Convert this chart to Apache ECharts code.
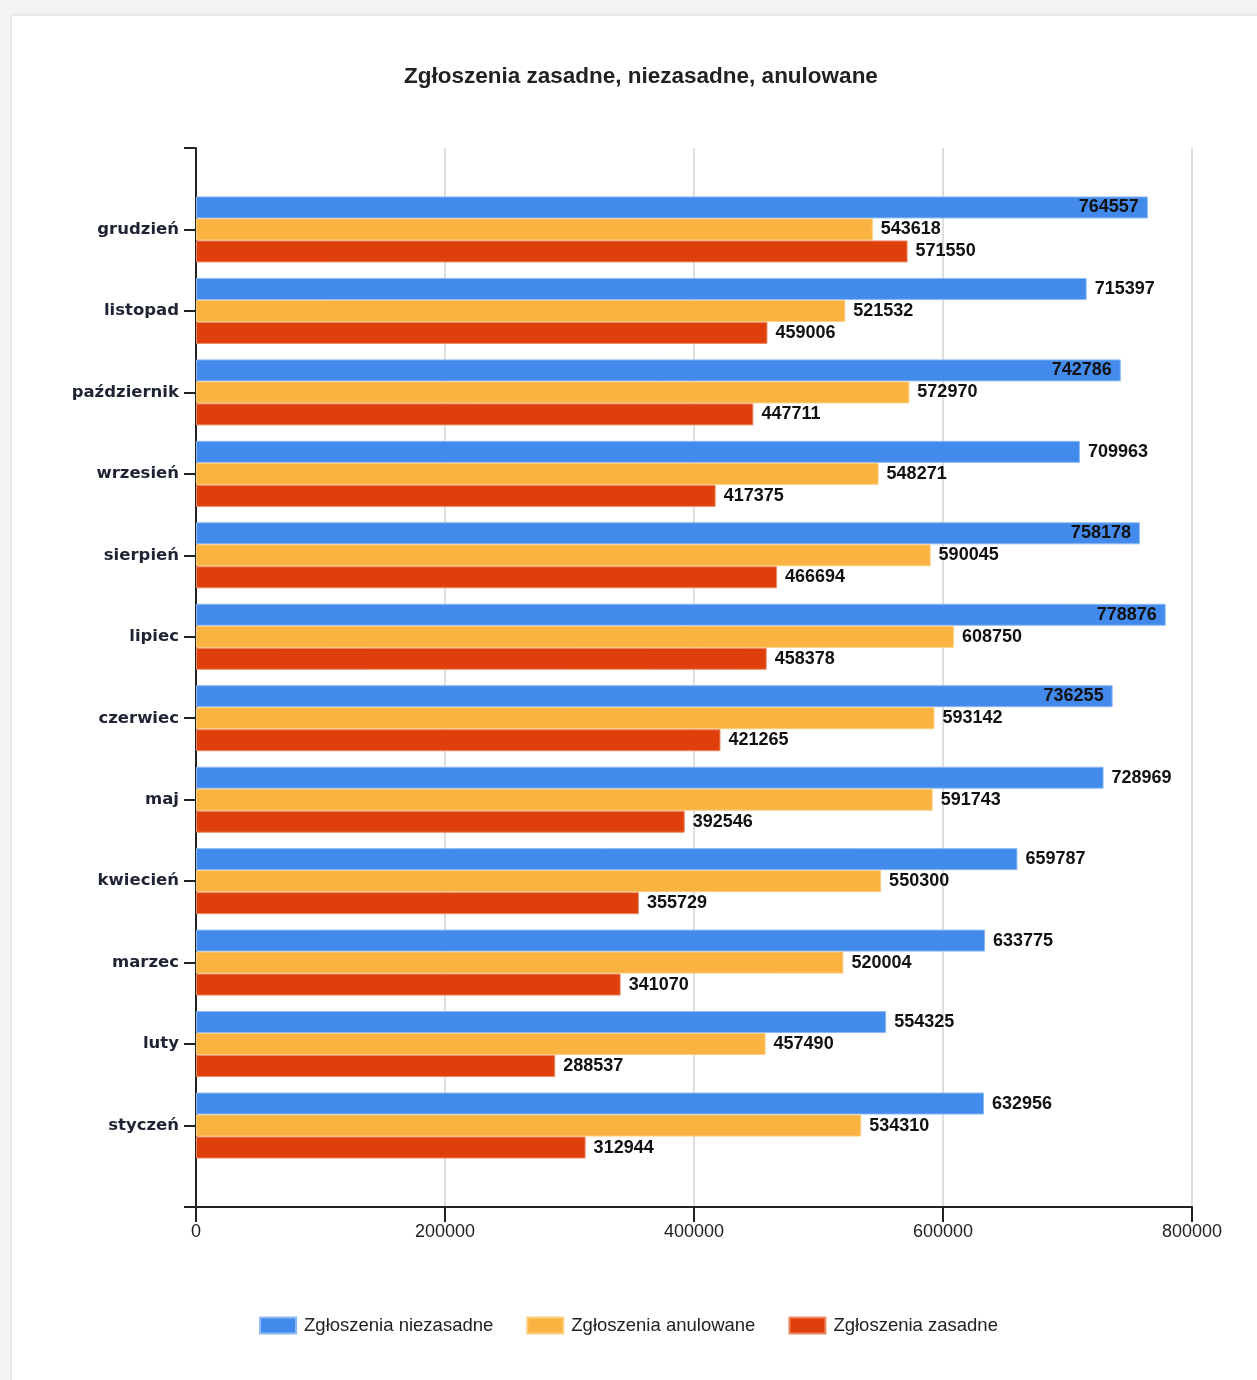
<!DOCTYPE html>
<html lang="pl">
<head>
<meta charset="utf-8">
<title>Zgłoszenia zasadne, niezasadne, anulowane</title>
<script src="https://cdn.jsdelivr.net/npm/echarts@6/dist/echarts.min.js"></script>
<style>
  html, body { margin: 0; padding: 0; width: 1257px; height: 1380px; background: #f4f4f4; overflow: hidden; }
  #card { position: absolute; left: 11px; top: 15px; width: 1260px; height: 1380px; background: #ffffff;
          border-left: 1px solid #e6e6e6; border-top: 1px solid #e6e6e6; box-shadow: 0 -2px 3px rgba(0,0,0,0.03); }
  #chart { position: absolute; left: 0; top: 0; width: 1257px; height: 1380px; }
</style>
</head>
<body>
<div id="card"></div>
<div id="chart"></div>
<script>
// Months, bottom (January) to top (December)
const months = ['styczeń', 'luty', 'marzec', 'kwiecień', 'maj', 'czerwiec',
                'lipiec', 'sierpień', 'wrzesień', 'październik', 'listopad', 'grudzień'];

const seriesNames = ['Zgłoszenia niezasadne', 'Zgłoszenia anulowane', 'Zgłoszenia zasadne'];

const niezasadne = [632956, 554325, 633775, 659787, 728969, 736255, 778876, 758178, 709963, 742786, 715397, 764557];
const anulowane  = [534310, 457490, 520004, 550300, 591743, 593142, 608750, 590045, 548271, 572970, 521532, 543618];
const zasadne    = [312944, 288537, 341070, 355729, 392546, 421265, 458378, 466694, 417375, 447711, 459006, 571550];

const xTicks = [0, 200000, 400000, 600000, 800000];

const colors = ['#428BEC', '#FAB340', '#DE3F0B'];
const borders = ['#8DB9F3', '#FCCD80', '#EC8A66'];

const AXIS_MAX = xTicks[xTicks.length - 1];
const INSIDE_RATIO = 0.915; // long bars carry their label inside the bar end

// Empty slots at both ends give the half-band padding around the month rows
const categories = [''].concat(months, ['']);

function toItems(values) {
  const items = values.map(v => {
    const inside = v > AXIS_MAX * INSIDE_RATIO;
    return {
      value: v,
      label: inside ? { position: 'insideRight', distance: 9 } : { position: 'right', distance: 8 }
    };
  });
  return ['-'].concat(items, ['-']);
}

const valueSets = [niezasadne, anulowane, zasadne];

const series = valueSets.map((vals, i) => ({
  name: seriesNames[i],
  type: 'bar',
  barWidth: 22,
  barGap: '0%',
  data: toItems(vals),
  itemStyle: { color: colors[i], borderColor: borders[i], borderWidth: 1 },
  label: {
    show: true,
    color: '#111',
    fontFamily: 'Liberation Sans, Arial, sans-serif',
    fontWeight: 'bold',
    fontSize: 18
  },
  emphasis: { disabled: true },
  animation: false
}));

const chart = echarts.init(document.getElementById('chart'), null, { renderer: 'canvas' });

chart.setOption({
  animation: false,
  title: {
    text: 'Zgłoszenia zasadne, niezasadne, anulowane',
    left: 399,
    top: 60,
    textStyle: {
      fontFamily: 'Liberation Sans, Arial, sans-serif',
      fontWeight: 'bold',
      fontSize: 22.5,
      color: '#222'
    }
  },
  legend: {
    data: seriesNames,
    bottom: 40,
    left: 'center',
    padding: [5, 5, 5, 9],
    icon: 'rect',
    itemWidth: 36,
    itemHeight: 16,
    itemGap: 33,
    textStyle: {
      fontFamily: 'Liberation Sans, Arial, sans-serif',
      fontSize: 18.5,
      color: '#222',
      padding: [0, 0, 0, 3]
    }
  },
  grid: { left: 196, right: 65, top: 148, bottom: 173 },
  xAxis: {
    type: 'value',
    min: xTicks[0],
    max: AXIS_MAX,
    interval: xTicks[1] - xTicks[0],
    axisLine: { show: true, lineStyle: { color: '#222', width: 2 } },
    axisTick: { show: true, length: 15, lineStyle: { color: '#222', width: 2 } },
    axisLabel: {
      margin: 16,
      color: '#222',
      fontFamily: 'Liberation Sans, Arial, sans-serif',
      fontSize: 18,
      formatter: v => String(v)
    },
    splitLine: { show: true, lineStyle: { color: '#dedede', width: 2 } }
  },
  yAxis: {
    type: 'category',
    data: categories,
    boundaryGap: false,
    axisLine: { show: true, lineStyle: { color: '#222', width: 2 } },
    axisTick: { show: true, length: 12, interval: 0, lineStyle: { color: '#222', width: 2 } },
    axisLabel: {
      interval: 0,
      margin: 17,
      color: '#1e2433',
      fontFamily: 'DejaVu Sans, sans-serif',
      fontWeight: 'bold',
      fontSize: 16.5
    },
    splitLine: { show: false }
  },
  series: series
});
</script>
</body>
</html>
